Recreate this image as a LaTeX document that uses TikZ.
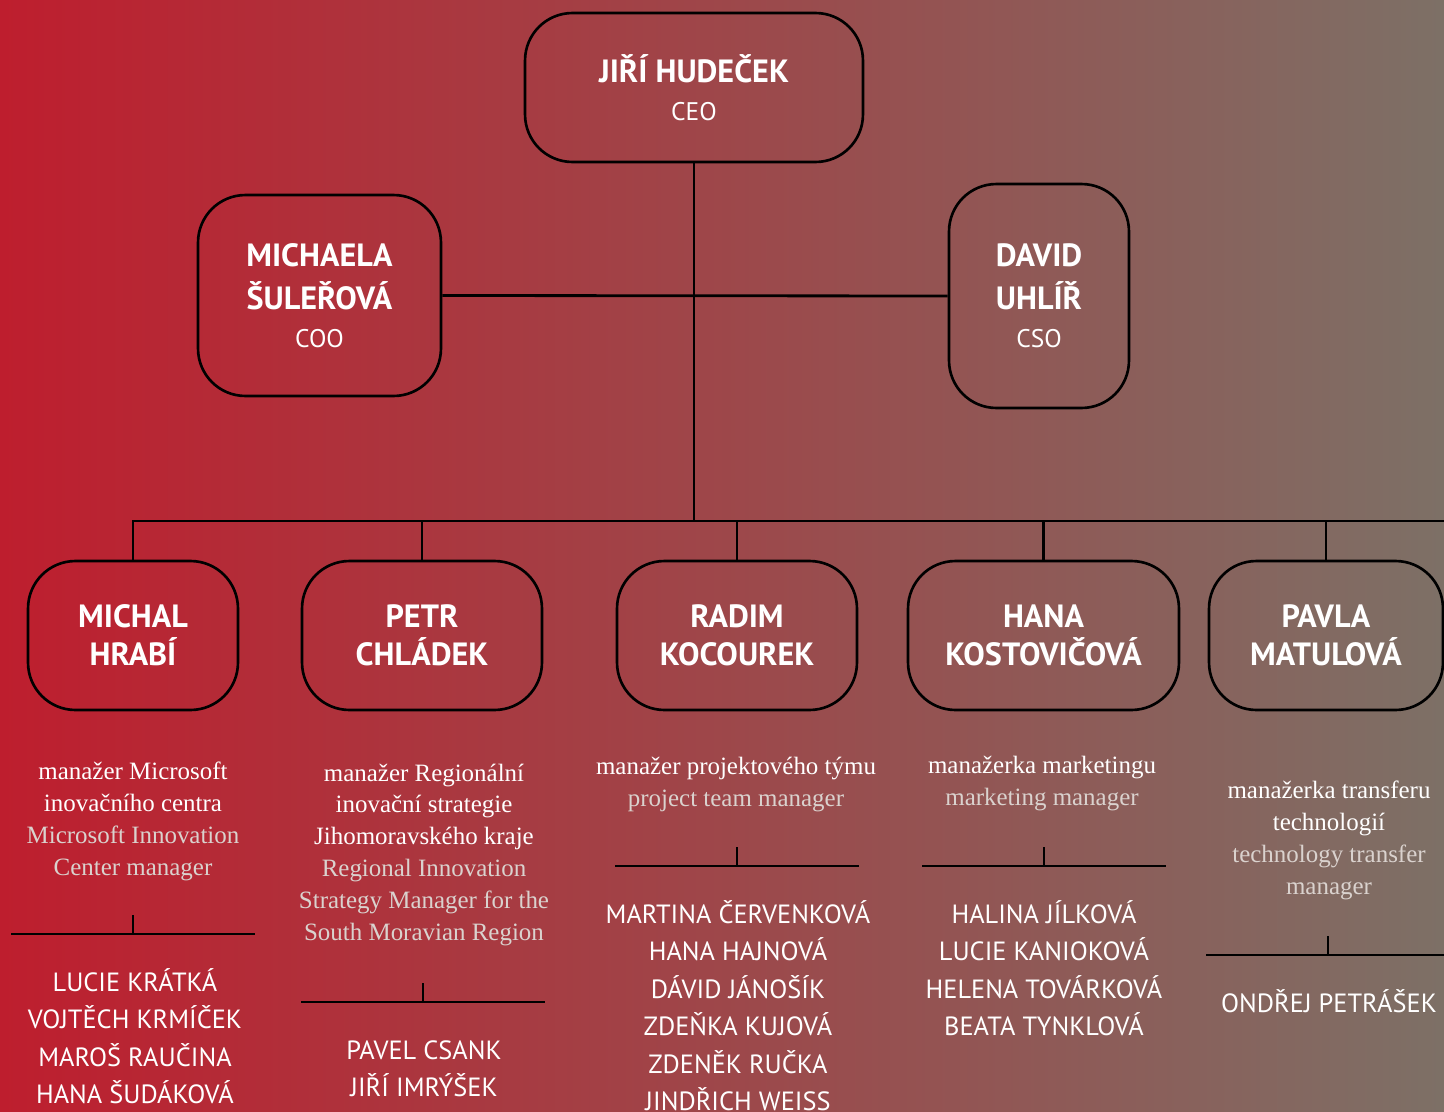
\documentclass[tikz,border=0pt]{standalone}
\usepackage{fontspec}
\setmainfont{Liberation Serif}
\setsansfont{PT Sans}
\definecolor{leftred}{RGB}{190,30,46}
\definecolor{rightgrey}{RGB}{125,112,102}
\definecolor{engl}{RGB}{218,210,206}
\newcommand{\en}[1]{\textcolor{engl}{#1}}
\newcommand{\rolesize}{\mdseries\fontsize{14.5}{16}\selectfont}

\begin{document}
\begin{tikzpicture}[x=0.02cm,y=-0.02cm,
  box/.style={draw=black,line width=1.5pt,rounded corners=27pt,align=center,text=white,
    font=\sffamily\bfseries\fontsize{18.3}{21.5}\selectfont,inner sep=0pt},
  line/.style={line width=1.6pt},
  role/.style={align=center,anchor=base,text=white,inner sep=0pt,
    font=\rmfamily\fontsize{14.2}{18.1}\selectfont},
  staff/.style={align=center,anchor=base,text=white,inner sep=0pt,
    font=\sffamily\fontsize{15}{21.3}\selectfont}]
\shade [left color=leftred,right color=rightgrey] (0,0) rectangle (1444,1112);
\useasboundingbox (0,0) rectangle (1444,1112);
% top of the chart
\node [box,minimum width=6.76cm,minimum height=2.98cm] (ceo) at (694,87.5) {JIŘÍ HUDEČEK\\{\rolesize CEO}};
\node [box,minimum width=4.86cm,minimum height=4.02cm] (coo) at (319.5,295.5) {MICHAELA\\[3pt]ŠULEŘOVÁ\\{\rolesize COO}};
\node [box,minimum width=3.6cm,minimum height=4.48cm] (cso) at (1039,296) {DAVID\\[3pt]UHLÍŘ\\{\rolesize CSO}};
% managers
\node [box,minimum width=4.2cm,minimum height=2.98cm] (michal) at (133,635.5) {MICHAL\\HRABÍ};
\node [box,minimum width=4.8cm,minimum height=2.98cm] (petr) at (422,635.5) {PETR\\CHLÁDEK};
\node [box,minimum width=4.8cm,minimum height=2.98cm] (radim) at (737,635.5) {RADIM\\KOCOUREK};
\node [box,minimum width=5.42cm,minimum height=2.98cm] (hana) at (1043.5,635.5) {HANA\\KOSTOVIČOVÁ};
\node [box,minimum width=4.68cm,minimum height=2.98cm] (pavla) at (1326,635.5) {PAVLA\\MATULOVÁ};
\coordinate (busR) at (1444,521);
\draw [line] (ceo.south) -- (ceo.south |- busR);
\draw [line] (coo.east) -- (cso.west);
\draw [line] (michal.north) |- (busR);
\foreach \n in {petr,radim,hana,pavla}
  \draw [line] (\n.north) -- (\n.north |- busR);
% roles (placed by the baseline of their last line)
\node [role] (michal-role) at (133,875) {manažer Microsoft\\inovačního centra\\\en{Microsoft Innovation}\\\en{Center manager}};
\node [role] (petr-role) at (424,940) {manažer Regionální\\inovační strategie\\Jihomoravského kraje\\\en{Regional Innovation}\\\en{Strategy Manager for the}\\\en{South Moravian Region}};
\node [role] (radim-role) at (736,806) {manažer projektového týmu\\\en{project team manager}};
\node [role] (hana-role) at (1042,805) {manažerka marketingu\\\en{marketing manager}};
\node [role] (pavla-role) at (1329,894) {manažerka transferu\\technologií\\\en{technology transfer}\\\en{manager}};
% separators
\foreach \n/\cx/\by in {michal/133/934,petr/423/1002,radim/737/866,hana/1044/866,pavla/1328/955}{
  \coordinate (\n-bar) at (\cx,\by);
  \draw [line] (\n-bar) -- ++(0,-19);
  \draw [line] ([xshift=-2.44cm]\n-bar) -- ([xshift=2.44cm]\n-bar);
}
% teams
\node [staff] (michal-staff) at (135,1103.5) {LUCIE KRÁTKÁ\\VOJTĚCH KRMÍČEK\\MAROŠ RAUČINA\\HANA ŠUDÁKOVÁ};
\node [staff] (petr-staff) at (424,1096.5) {PAVEL CSANK\\JIŘÍ IMRÝŠEK};
\node [staff] (radim-staff) at (738,1110.5) {MARTINA ČERVENKOVÁ\\HANA HAJNOVÁ\\DÁVID JÁNOŠÍK\\ZDEŇKA KUJOVÁ\\ZDENĚK RUČKA\\JINDŘICH WEISS};
\node [staff] (hana-staff) at (1044,1035.5) {HALINA JÍLKOVÁ\\LUCIE KANIOKOVÁ\\HELENA TOVÁRKOVÁ\\BEATA TYNKLOVÁ};
\node [staff] (pavla-staff) at (1329,1012) {ONDŘEJ PETRÁŠEK};
\end{tikzpicture}
\end{document}
